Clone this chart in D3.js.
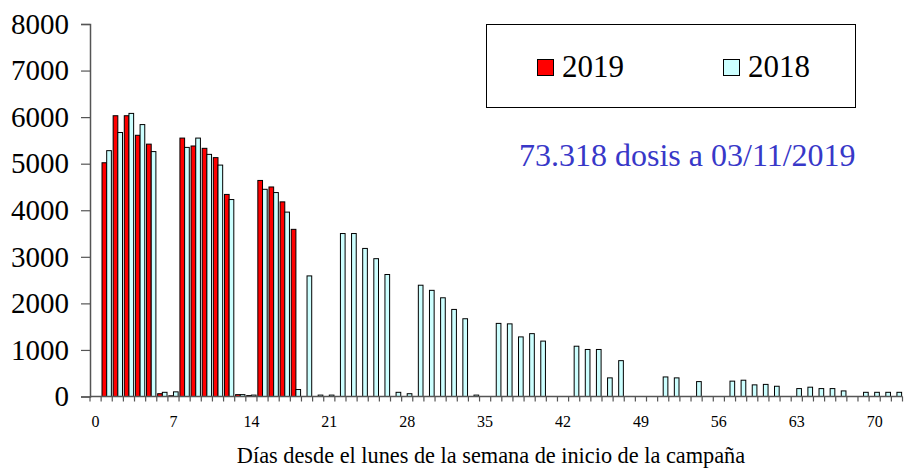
<!DOCTYPE html>
<html>
<head>
<meta charset="utf-8">
<script src="https://cdn.jsdelivr.net/npm/d3@7"></script>
<style>
  html, body { margin: 0; padding: 0; background: #fff; }
  svg { display: block; }
  svg text { font-family: "Liberation Serif", "Times New Roman", serif; }
</style>
</head>
<body>
<svg id="chart" width="905" height="468"></svg>
<script>
// Days since the Monday of the campaign's starting week
const days = d3.range(0, 73);

// Daily doses, 2019 campaign (data up to day 18)
const doses2019 = [
  0, 5020, 6030, 6030, 5610, 5420, 60, 15, 5550, 5380,
  5330, 5130, 4340, 40, 20, 4640, 4500, 4180, 3590
];

// Daily doses, 2018 campaign
const doses2018 = [
  0, 5280, 5670, 6080, 5840, 5260, 90, 100, 5350, 5550,
  5200, 4970, 4230, 40, 30, 4450, 4380, 3960, 150, 2590,
  30, 30, 3500, 3500, 3180, 2960, 2620, 90, 60, 2390,
  2280, 2120, 1870, 1670, 30, 0, 1570, 1560, 1280, 1350,
  1190, 0, 0, 1080, 1010, 1010, 400, 770, 0, 0,
  0, 420, 400, 0, 320, 0, 0, 330, 350, 250,
  260, 220, 0, 170, 200, 170, 170, 120, 0, 90,
  90, 90, 90
];

const seriesNames = ["2019", "2018"];
const yTicks = [0, 1000, 2000, 3000, 4000, 5000, 6000, 7000, 8000];
const xTickLabels = [0, 7, 14, 21, 28, 35, 42, 49, 56, 63, 70];
const xTitle = "Días desde el lunes de la semana de inicio de la campaña";
const note = "73.318 dosis a 03/11/2019";

const colors = { "2019": "#ff0000", "2018": "#ccffff" };

const svg = d3.select("#chart");
const plotLeft = 90, plotRight = 902.5, plotTop = 24, plotBottom = 396.5;

const x = d3.scaleBand().domain(days).range([plotLeft, plotRight]).padding(0);
const xs = d3.scaleBand().domain(seriesNames)
  .range([x.bandwidth() * 0.08, x.bandwidth() * 0.92]).padding(0);
const y = d3.scaleLinear().domain([0, 8000]).range([plotBottom, plotTop]);

// Bars
const rows = [];
seriesNames.forEach(name => {
  const vals = name === "2019" ? doses2019 : doses2018;
  vals.forEach((v, i) => { if (v > 0) rows.push({ day: days[i], name, v }); });
});

svg.append("g").selectAll("rect").data(rows).join("rect")
  .attr("x", d => x(d.day) + xs(d.name))
  .attr("y", d => y(d.v))
  .attr("width", xs.bandwidth())
  .attr("height", d => y(0) - y(d.v))
  .attr("fill", d => colors[d.name])
  .attr("stroke", "#000")
  .attr("stroke-width", 1);

// Y axis
const yAxis = svg.append("g").attr("transform", `translate(${plotLeft},0)`)
  .call(d3.axisLeft(y).tickValues(yTicks).tickSize(9).tickPadding(12).tickFormat(d3.format("d")))
  .attr("font-family", null).attr("font-size", null);
yAxis.select(".domain").attr("stroke", "#555").attr("stroke-width", 1.5);
yAxis.selectAll(".tick line").attr("stroke", "#555").attr("stroke-width", 1.2);
yAxis.selectAll("text").style("font-size", "29px").attr("fill", "#000");

// X axis: ticks on category boundaries, labels every 7 days
const xg = svg.append("g");
xg.append("line").attr("x1", plotLeft).attr("x2", plotRight)
  .attr("y1", y(0)).attr("y2", y(0))
  .attr("stroke", "#555").attr("stroke-width", 1.5);
xg.selectAll("line.tk").data(days.concat([days.length])).join("line")
  .attr("class", "tk")
  .attr("x1", d => plotLeft + d * x.step()).attr("x2", d => plotLeft + d * x.step())
  .attr("y1", y(0)).attr("y2", y(0) + 5)
  .attr("stroke", "#555").attr("stroke-width", 1.2);
xg.selectAll("text").data(xTickLabels).join("text")
  .attr("x", d => x(d) + x.bandwidth() / 2)
  .attr("y", 427)
  .attr("text-anchor", "middle")
  .style("font-size", "16px")
  .text(d => d);

svg.append("text")
  .attr("x", 491).attr("y", 463)
  .attr("text-anchor", "middle")
  .style("font-size", "22.3px")
  .text(xTitle);

// Legend
const lg = svg.append("g");
lg.append("rect").attr("x", 486.5).attr("y", 24.5).attr("width", 369).attr("height", 83)
  .attr("fill", "#fff").attr("stroke", "#000").attr("stroke-width", 1);
const legendPos = [{ name: "2019", sx: 537.5, tx: 562 }, { name: "2018", sx: 723.5, tx: 748 }];
legendPos.forEach(p => {
  lg.append("rect").attr("x", p.sx).attr("y", 59.5).attr("width", 16).attr("height", 16)
    .attr("fill", colors[p.name]).attr("stroke", "#000").attr("stroke-width", 1);
  lg.append("text").attr("x", p.tx).attr("y", 77).style("font-size", "31px").text(p.name);
});

// Campaign total note
svg.append("text")
  .attr("x", 519).attr("y", 166)
  .style("font-size", "32px")
  .attr("fill", "#3838c8")
  .text(note);
</script>
</body>
</html>
